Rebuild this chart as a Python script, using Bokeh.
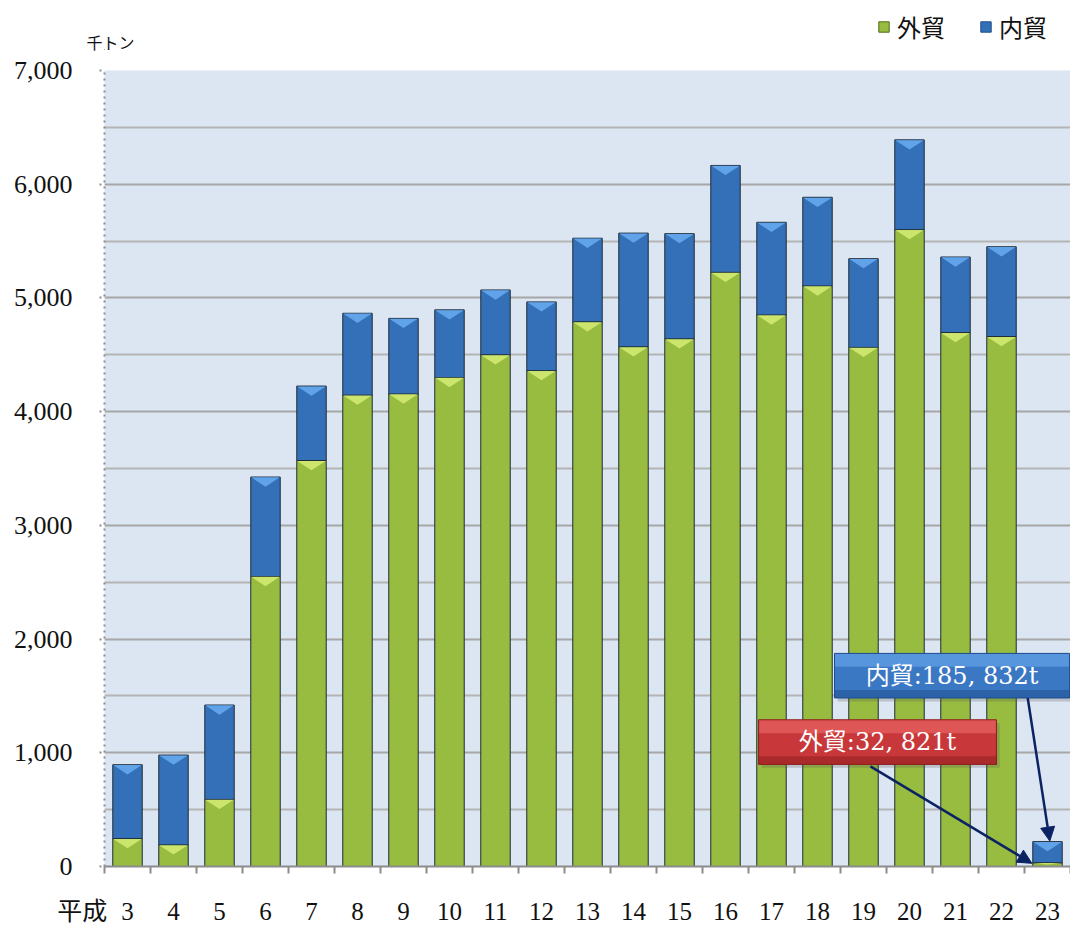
from bokeh.plotting import figure
from bokeh.layouts import column
from bokeh.models import (Range1d, FixedTicker, Arrow, NormalHead, ColumnDataSource,
                          Legend, LegendItem)
from bokeh.core.properties import value
from bokeh.embed import file_html
from bokeh.resources import INLINE

# ---------------- data ----------------
years = ["3", "4", "5", "6", "7", "8", "9", "10", "11", "12", "13",
         "14", "15", "16", "17", "18", "19", "20", "21", "22", "23"]
gaiboeki = [245, 190, 590, 2550, 3570, 4145, 4155, 4300, 4500, 4360, 4790,
            4570, 4640, 5225, 4850, 5105, 4565, 5600, 4695, 4660, 32.821]
naiboeki = [650, 790, 830, 875, 655, 720, 665, 595, 570, 605, 735,
            1000, 925, 940, 815, 780, 780, 790, 665, 790, 185.832]
series_names = ["外貿", "内貿"]
y_ticks = [0, 1000, 2000, 3000, 4000, 5000, 6000, 7000]
y_tick_labels = ["0", "1,000", "2,000", "3,000", "4,000", "5,000", "6,000", "7,000"]
y_minor = [500, 1500, 2500, 3500, 4500, 5500, 6500]
unit_label = "千トン"
era_label = "平成"
callout_blue = "内貿:185, 832t"
callout_red = "外貿:32, 821t"

# ---------------- styles ----------------
GREEN = "#97BC3F"
GREEN_HI = "#D2EA72"
BLUE = "#3470B8"
BLUE_HI = "#66A8EE"
OUTLINE = "#1E2B36"
SERIF = "Liberation Serif"
CJK = "Noto Sans CJK JP"
BAR_W = 0.64
W = 1070
HEAD_H = 56
MAIN_H = 927 - HEAD_H

n = len(years)
xc = [i + 0.5 for i in range(n)]
totals = [g + b for g, b in zip(gaiboeki, naiboeki)]

# ---------------- header strip: legend + unit label ----------------
head = figure(width=W, height=HEAD_H, output_backend="svg", toolbar_location=None,
              x_range=Range1d(104, W), y_range=Range1d(0, 1),
              y_axis_location=None,
              min_border_left=104, min_border_right=0,
              min_border_top=0, min_border_bottom=0)
head.outline_line_color = None
head.background_fill_color = "white"
head.border_fill_color = "white"
head.xgrid.visible = False
head.ygrid.visible = False
# unit label drawn as the header's only axis tick label, lifted into the strip
unit_pos = 110
head.xaxis.ticker = FixedTicker(ticks=[unit_pos])
head.xaxis.major_label_overrides = {unit_pos: unit_label}
head.xaxis.axis_line_color = None
head.xaxis.major_tick_line_color = None
head.xaxis.minor_tick_line_color = None
head.xaxis.major_tick_out = 0
head.xaxis.major_tick_in = 0
head.xaxis.major_label_standoff = -20
head.xaxis.major_label_text_font = CJK
head.xaxis.major_label_text_font_size = "16px"
head.xaxis.major_label_text_color = "#111111"

# legend-only swatch renderers, placed outside the visible range
lr_g = head.vbar(x=[-5], top=[-5], bottom=[-6], width=1, fill_color=GREEN,
                 line_color="#4E6B1A")
lr_b = head.vbar(x=[-5], top=[-5], bottom=[-6], width=1, fill_color=BLUE,
                 line_color="#1D4C8C")
lg = Legend(items=[LegendItem(label=series_names[0], renderers=[lr_g]),
                   LegendItem(label=series_names[1], renderers=[lr_b])])
lg.orientation = "horizontal"
lg.location = (773, 5)
lg.background_fill_alpha = 0
lg.border_line_alpha = 0
lg.padding = 0
lg.margin = 0
lg.spacing = 34
lg.glyph_width = 13
lg.glyph_height = 13
lg.label_standoff = 7
lg.label_text_font = CJK
lg.label_text_font_size = "24px"
lg.label_text_color = "#111111"
head.add_layout(lg, "center")

# ---------------- main chart ----------------
p = figure(width=W, height=MAIN_H, output_backend="svg", toolbar_location=None,
           x_range=Range1d(0, n), y_range=Range1d(0, 7000),
           min_border_left=104, min_border_right=0,
           min_border_top=70 - HEAD_H, min_border_bottom=54)
p.background_fill_color = "#DCE6F2"
p.border_fill_color = "white"
p.outline_line_color = None

src = ColumnDataSource(dict(x=xc, g=gaiboeki, b=naiboeki))
rs = p.vbar_stack(["g", "b"], x="x", width=BAR_W, source=src,
                  fill_color=[GREEN, BLUE], line_color=OUTLINE, line_width=1)

# bevel highlights at top of each segment (derived from data)
def bevel(bottoms, tops):
    xs, ys = [], []
    for c, b0, t in zip(xc, bottoms, tops):
        d = min(85, 0.45 * (t - b0))
        xs.append([c - BAR_W / 2 + 0.01, c + BAR_W / 2 - 0.01, c])
        ys.append([t - 3, t - 3, t - d])
    return xs, ys

gx, gy = bevel([0] * n, gaiboeki)
p.patches(gx, gy, fill_color=GREEN_HI, line_color=None, fill_alpha=0.9)
bx, by = bevel(gaiboeki, totals)
p.patches(bx, by, fill_color=BLUE_HI, line_color=None, fill_alpha=0.9)

# x axis: year labels at centres, era label at the left edge
era_pos = 0.06
x_labels = {era_pos: era_label + "\u3000\u3000"}
x_labels.update({x: y for x, y in zip(xc, years)})
p.xaxis.ticker = FixedTicker(ticks=[era_pos] + xc, minor_ticks=list(range(n + 1)))
p.xaxis.major_label_overrides = x_labels
p.xaxis.major_tick_out = 0
p.xaxis.major_tick_in = 0
p.xaxis.minor_tick_out = 7
p.xaxis.minor_tick_in = 0
p.xaxis.minor_tick_line_color = "#8C8C8C"
p.xaxis.minor_tick_line_width = 2
p.xaxis.axis_line_color = "#8C8C8C"
p.xaxis.axis_line_width = 2
p.xaxis.major_label_text_font = SERIF + ", " + CJK
p.xaxis.major_label_text_font_size = "25px"
p.xaxis.major_label_text_color = "#111111"
p.xaxis.major_label_standoff = 24

p.yaxis.ticker = FixedTicker(ticks=y_ticks, minor_ticks=y_minor)
p.yaxis.major_label_overrides = {t: l for t, l in zip(y_ticks, y_tick_labels)}
p.yaxis.axis_line_color = "#8C8C8C"
p.yaxis.axis_line_dash = "dotted"
p.yaxis.axis_line_width = 2
p.yaxis.major_tick_out = 5
p.yaxis.major_tick_in = 0
p.yaxis.major_tick_line_dash = "dotted"
p.yaxis.major_tick_line_color = "#8C8C8C"
p.yaxis.major_tick_line_width = 2
p.yaxis.minor_tick_line_color = None
p.yaxis.major_label_text_font = SERIF
p.yaxis.major_label_text_font_size = "26px"
p.yaxis.major_label_text_color = "#111111"
p.yaxis.major_label_standoff = 27

p.xgrid.grid_line_color = None
p.ygrid.grid_line_color = "#A6A6A6"
p.ygrid.grid_line_width = 2
p.ygrid.minor_grid_line_color = "#B4B4B4"
p.ygrid.minor_grid_line_width = 2

# callouts
def callout(l, r, b, t, base, hi, lo, txt):
    p.quad(left=[l + 0.07], right=[r + 0.07], bottom=[b - 30], top=[t - 30],
           fill_color="#555555", fill_alpha=0.25, line_color=None)
    p.quad(left=[l], right=[r], bottom=[b], top=[t], fill_color=base, line_color=None)
    h = t - b
    p.quad(left=[l], right=[r], bottom=[t - 0.3 * h], top=[t], fill_color=hi,
           fill_alpha=0.6, line_color=None)
    p.quad(left=[l], right=[r], bottom=[b], top=[b + 0.18 * h], fill_color=lo,
           fill_alpha=0.5, line_color=None)
    p.quad(left=[l], right=[r], bottom=[b], top=[t], fill_color=None,
           line_color=lo, line_width=1)
    p.text(x=[(l + r) / 2], y=[(b + t) / 2], text=[txt], text_color="white",
           text_font=value("DejaVu Serif, " + CJK), text_font_size="24px",
           text_align="center", text_baseline="middle")

callout(15.87, 20.98, 1482, 1874, "#3A78C4", "#6AA8EE", "#1D4C8C", callout_blue)
callout(14.22, 19.39, 898, 1290, "#C8383A", "#EE6A6A", "#8C1C1C", callout_red)

ARROW = "#0B2363"
p.add_layout(Arrow(end=NormalHead(size=14, fill_color=ARROW, line_color=ARROW),
                   x_start=20.07, y_start=1482, x_end=20.55, y_end=totals[-1] + 5,
                   line_color=ARROW, line_width=2.5))
p.add_layout(Arrow(end=NormalHead(size=14, fill_color=ARROW, line_color=ARROW),
                   x_start=16.65, y_start=880, x_end=20.16, y_end=gaiboeki[-1] - 5,
                   line_color=ARROW, line_width=2.5))

layout = column(head, p, spacing=0)
open("out.html", "w").write(file_html(layout, INLINE))
